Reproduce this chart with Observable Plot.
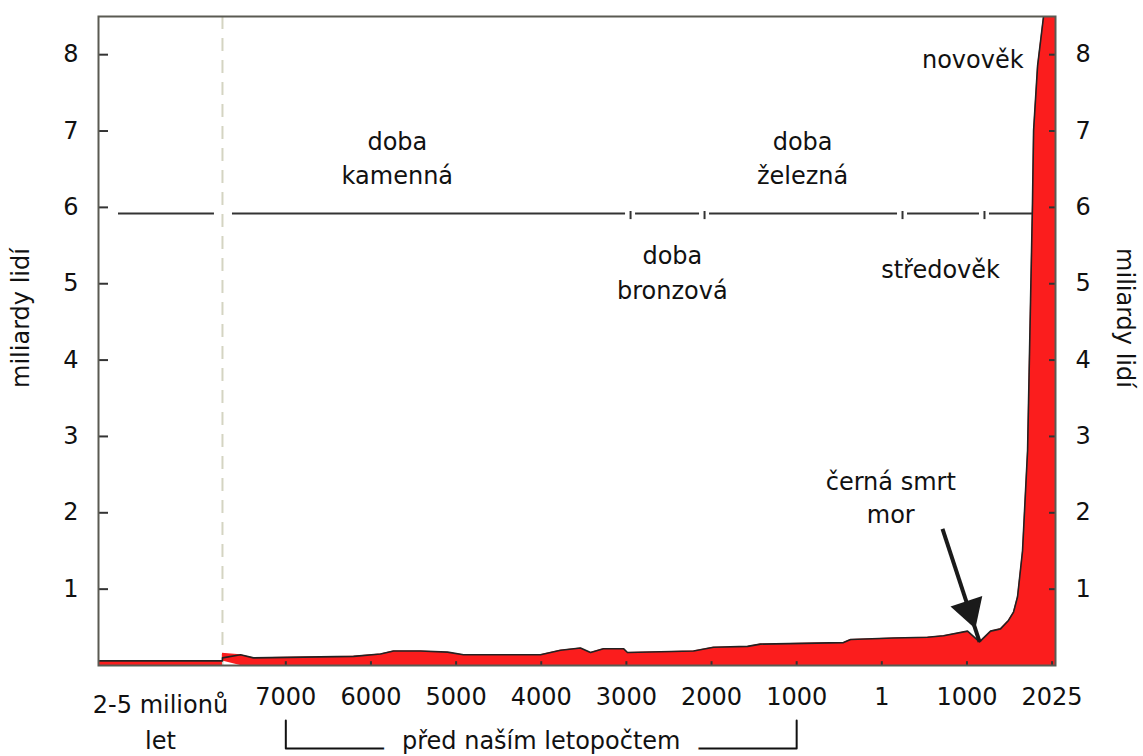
<!DOCTYPE html>
<html><head><meta charset="utf-8">
<script src="https://cdn.jsdelivr.net/npm/d3@7"></script>
<script src="https://cdn.jsdelivr.net/npm/@observablehq/plot@0.6"></script>
<style>
html,body{margin:0;padding:0;background:#fff;overflow:hidden}
#chart{width:1143px;height:756px}
</style></head><body><div id="chart"></div>
<script>
// ---------- data ----------
const tickYears  = [-7000, -6000, -5000, -4000, -3000, -2000, -1000, 1, 1000, 2025];
const tickLabels = ["7000", "6000", "5000", "4000", "3000", "2000", "1000", "1", "1000", "2025"];
const yTicks = [1, 2, 3, 4, 5, 6, 7, 8];
const prehistoryLabel = "2-5 milionů\nlet";
const holoceneStart = -7744;          // dashed line
const prehistoryPop = 0.06;           // billions

const popYears  = [-7744, -7532, -7380, -6205, -5888, -5735, -5418, -5100, -4913, -4009, -3774, -3539, -3421, -3270, -3034, -2987, -2211, -1977, -1577, -1425, -449, -366, 139, 537, 725, 1007, 1152, 1284, 1404, 1500, 1561, 1609, 1669, 1730, 1766, 1789, 1802, 1850, 1922, 2025];
const popValues = [0.10, 0.14, 0.10, 0.12, 0.15, 0.19, 0.19, 0.175, 0.14, 0.14, 0.20, 0.23, 0.17, 0.22, 0.22, 0.17, 0.19, 0.24, 0.25, 0.28, 0.30, 0.34, 0.36, 0.37, 0.39, 0.45, 0.31, 0.45, 0.48, 0.59, 0.70, 0.90, 1.5, 2.82, 4.8, 6.05, 7.0, 7.85, 8.5, 9.2];

const periodNames  = ["doba\nkamenná", "doba\nbronzová", "doba\nželezná", "středověk"];
const periodBounds = [-2951, -2082, 244, 1211];
const periodLineLevel = 5.92;
const periodLabelYears  = [-5690, -2460, -930, 690];
const periodLabelLevels = [6.30, 4.80, 6.30, 5.07];
const modernLabel = "novověk";
const modernLabelYear = 1682, modernLabelLevel = 7.83;

const plagueLabel = "černá smrt\nmor";
const plagueLabelYear = 106, plagueLabelLevel = 1.86;
const plagueYear = 1152, plagueValue = 0.31;
const arrowStartYear = 713, arrowStartLevel = 1.79;

const bcLabel = "před naším letopočtem";
const bcYears = [-7000, -1000];
const bcLevels = [-0.72, -1.086];
const bcLabelLevel = -1.10;

const yLabel = "miliardy lidí";

// ---------- helpers ----------
const pos = d3.scaleLinear().domain(tickYears).range(tickYears.map((_, i) => i + 1));
const xDomain = [-1.2, 10.04];
const labelMap = new Map(tickYears.map((y, i) => [pos(y), tickLabels[i]]));
const xTickU = tickYears.map(pos);

const W = 1143, H = 756, mL = 98, mR = 88, mT = 16, mB = 91;
const plotW = W - mL - mR;

const areaData = [
  {u: xDomain[0], v: prehistoryPop},
  {u: pos(holoceneStart), v: prehistoryPop},
  ...popYears.map((y, i) => ({u: pos(y), v: popValues[i]})),
  {u: xDomain[1], v: popValues[popValues.length - 1]}
];

const segB = [{a: pos(holoceneStart), b: pos(periodBounds[0])}];
const segC = periodBounds.map((p, i) => ({a: pos(p), b: i < periodBounds.length - 1 ? pos(periodBounds[i + 1]) : pos(2025)}));

const periods = periodNames.map((n, i) => ({name: n, u: pos(periodLabelYears[i]), v: periodLabelLevels[i]}));

const bracket = [
  {u: pos(bcYears[0]), v: bcLevels[0]},
  {u: pos(bcYears[0]), v: bcLevels[1]},
  {u: pos(bcYears[1]), v: bcLevels[1]},
  {u: pos(bcYears[1]), v: bcLevels[0]}
];

const red = "#fb1d1d", ink = "#111", font = "DejaVu Sans";

const chart = Plot.plot({
  width: W, height: H,
  marginLeft: mL, marginRight: mR, marginTop: mT, marginBottom: mB,
  style: {fontFamily: font, fontSize: "24px", color: ink, background: "#fff"},
  x: {domain: xDomain, axis: null},
  y: {domain: [0, 8.5], axis: null},
  marks: [
    // dashed divider
    Plot.ruleX([holoceneStart], {x: d => pos(d), stroke: "#d4d4c2", strokeWidth: 2, strokeDasharray: "13,9"}),
    // period line
    Plot.ruleY([periodLineLevel], {x1: xDomain[0], x2: pos(holoceneStart), stroke: "#333", strokeWidth: 2, insetLeft: 20, insetRight: 8}),
    Plot.ruleY(segB, {y: () => periodLineLevel, x1: "a", x2: "b", stroke: "#333", strokeWidth: 2, insetLeft: 10, insetRight: 5}),
    Plot.ruleY(segC, {y: () => periodLineLevel, x1: "a", x2: "b", stroke: "#333", strokeWidth: 2, insetLeft: 5, insetRight: 5}),
    Plot.ruleX(periodBounds, {x: d => pos(d), y1: 5.946, y2: 5.84, stroke: "#333", strokeWidth: 2}),
    // period labels
    Plot.text(periods, {x: "u", y: "v", text: "name", textAnchor: "middle", lineAnchor: "bottom", lineHeight: 1.45, fill: ink, fontSize: 24}),
    // population area
    Plot.areaY(areaData, {x: "u", y: "v", fill: red, clip: true}),
    Plot.line(areaData, {x: "u", y: "v", stroke: "#222", strokeWidth: 1.6, clip: true}),
    Plot.text([modernLabel], {x: pos(modernLabelYear), y: modernLabelLevel, textAnchor: "end", lineAnchor: "bottom", fill: ink, fontSize: 24}),
    // inward tick marks
    Plot.ruleY(yTicks, {stroke: "#333", strokeWidth: 2, insetRight: plotW - 10}),
    Plot.ruleY(yTicks, {stroke: "#333", strokeWidth: 2, insetLeft: plotW - 6}),
    Plot.ruleX(xTickU, {x: d => d, y1: 0, y2: 0.05, stroke: "#333", strokeWidth: 2}),
    // axes
    Plot.axisY(yTicks, {anchor: "left", tickSize: 0, tickPadding: 20, label: null, fontSize: 24, tickFormat: d => String(d)}),
    Plot.axisY(yTicks, {anchor: "right", tickSize: 0, tickPadding: 20, label: null, fontSize: 24, tickFormat: d => String(d)}),
    Plot.axisX(xTickU, {anchor: "bottom", tickSize: 0, tickPadding: 22, label: null, fontSize: 24, tickFormat: d => labelMap.get(d)}),
    Plot.text([prehistoryLabel], {x: (xDomain[0] + pos(holoceneStart)) / 2, frameAnchor: "bottom", textAnchor: "middle", lineAnchor: "top", dy: 22, lineHeight: 1.5, fill: ink, fontSize: 24}),
    // y labels
    Plot.text([yLabel], {frameAnchor: "left", textAnchor: "middle", dx: -77, dy: -23, rotate: -90, fill: ink, fontSize: 24}),
    Plot.text([yLabel], {frameAnchor: "right", textAnchor: "middle", dx: 69, dy: -23, rotate: 90, fill: ink, fontSize: 24}),
    // frame
    Plot.frame({stroke: "#5a5a52", strokeWidth: 2}),
    // plague annotation
    Plot.text([plagueLabel], {x: pos(plagueLabelYear), y: plagueLabelLevel, textAnchor: "middle", lineAnchor: "bottom", lineHeight: 1.4, fill: ink, fontSize: 24}),
    Plot.link([0], {x1: pos(arrowStartYear), y1: arrowStartLevel, x2: pos(plagueYear), y2: plagueValue, stroke: "#1a1a1a", strokeWidth: 4, insetEnd: 36}),
    Plot.dot([0], {x: pos(plagueYear), y: plagueValue, symbol: "triangle", r: 12.4, rotate: 162, fill: "#1a1a1a", stroke: "none", dx: -10.2, dy: -31.4}),
    // BC bracket
    Plot.line(bracket, {x: "u", y: "v", stroke: ink, strokeWidth: 2}),
    Plot.text([bcLabel], {x: (pos(bcYears[0]) + pos(bcYears[1])) / 2, y: bcLabelLevel, textAnchor: "middle", lineAnchor: "bottom", fill: ink, stroke: "white", strokeWidth: 40, strokeLinejoin: "round", paintOrder: "stroke", fontSize: 24})
  ]
});
document.getElementById("chart").appendChild(chart);
</script>
</body></html>
